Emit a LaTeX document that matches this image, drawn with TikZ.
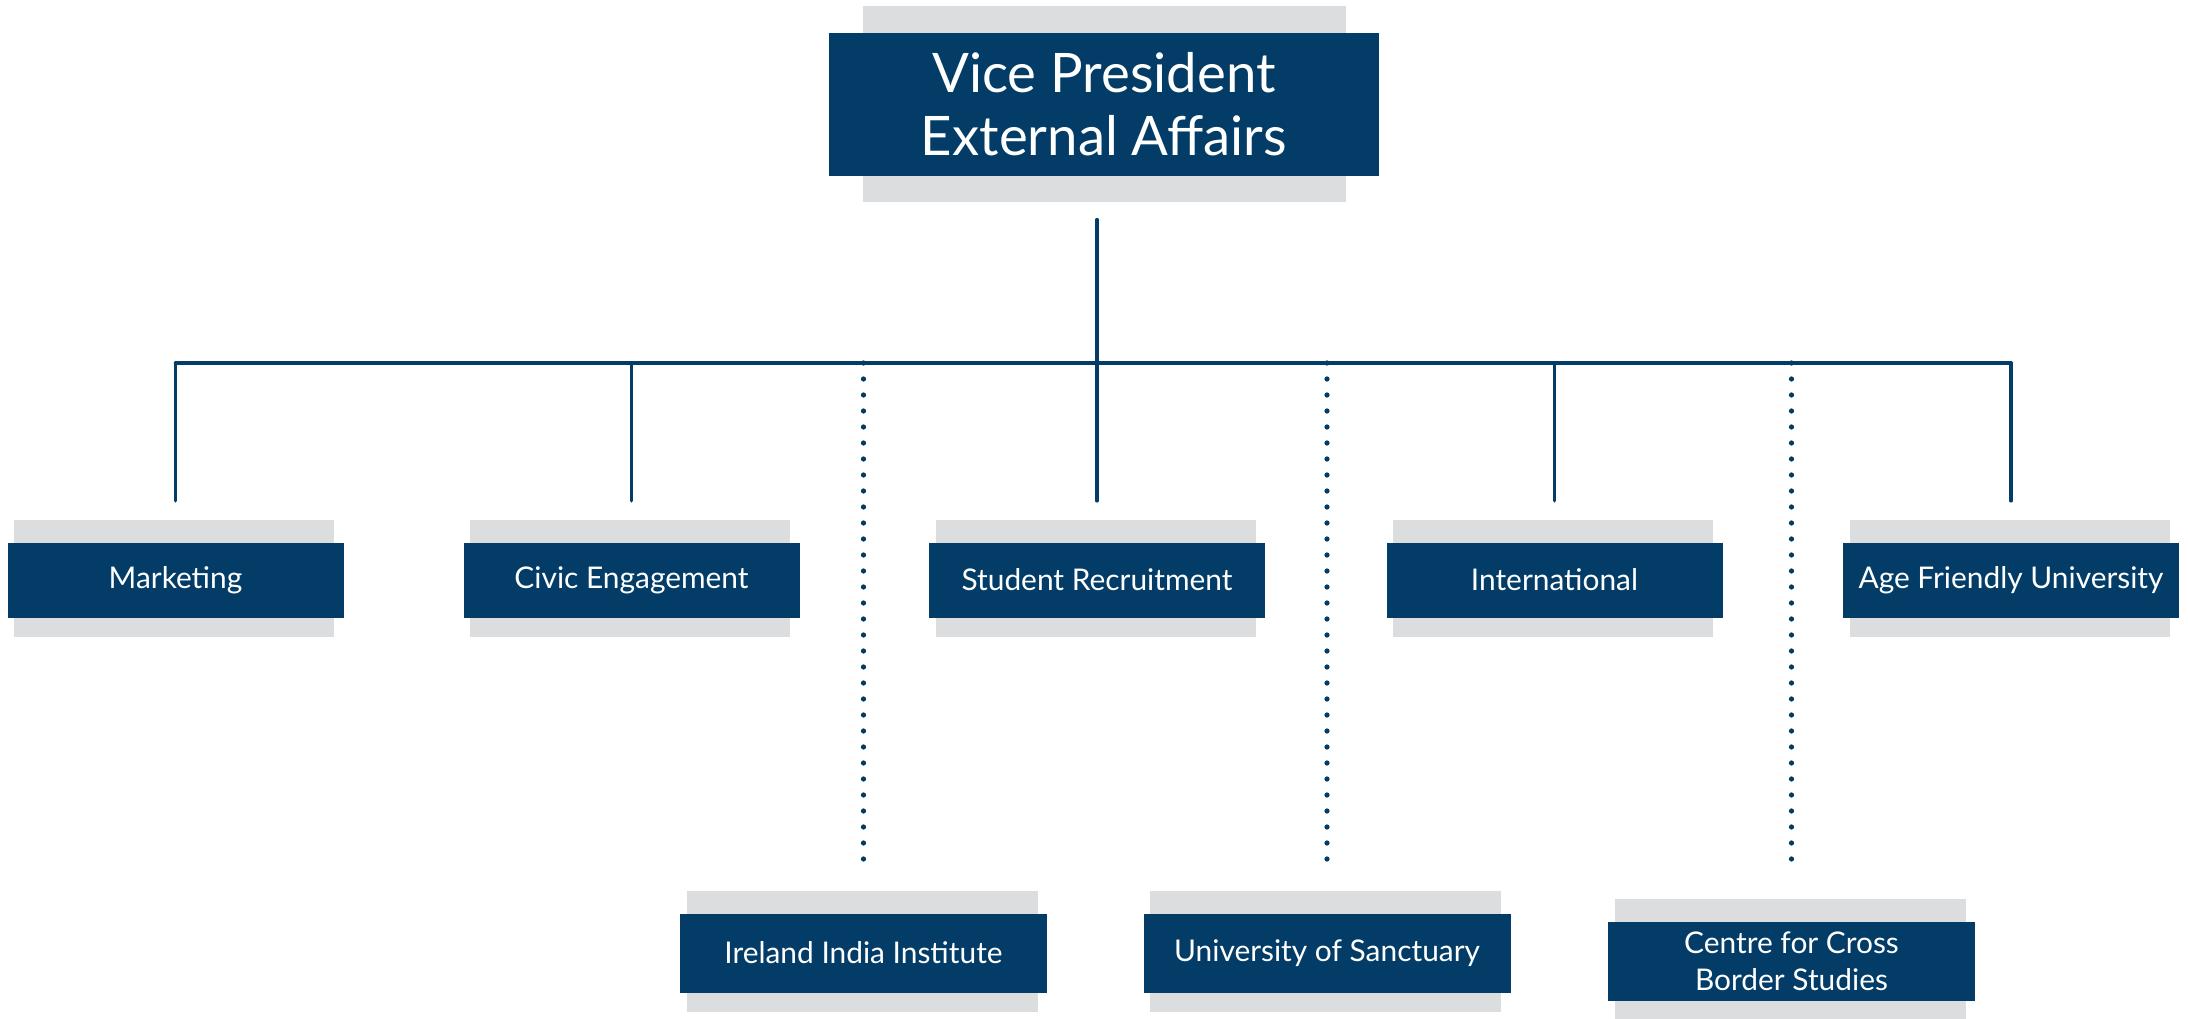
\documentclass[tikz,border=0pt]{standalone}
\usepackage{fontspec}
\setmainfont{Lato}
\usetikzlibrary{positioning,backgrounds,calc}
\definecolor{navy}{HTML}{033D67}
\definecolor{plategrey}{HTML}{DCDDDF}

\begin{document}
\begin{tikzpicture}[line cap=round]
    \tikzstyle{unit}=[fill=navy,text=white,inner sep=0pt,minimum width=3.36cm,minimum height=0.75cm,align=center,font=\fontsize{8.5}{10.5}\selectfont]
    \tikzstyle{lowunit}=[unit,minimum width=3.67cm,minimum height=0.79cm]
    \tikzstyle{plate}=[fill=plategrey]
    \tikzstyle{link}=[draw=navy,line width=1pt]
    \tikzstyle{dotlink}=[draw=navy,line width=1.5pt,dash pattern=on 0pt off 1.6mm]

    \useasboundingbox (0,0) rectangle (21.88,-10.19);

    \node[unit,minimum width=5.5cm,minimum height=1.43cm,font=\fontsize{15.5}{18}\selectfont] (vp) at (11.04,-1.045) {Vice President\\External Affairs};

    % first row
    \node[unit] (mkt)     at (1.755,-5.8) {Marketing};
    \node[unit] (civic)   at (6.315,-5.8) {Civic Engagement};
    \node[unit] (recruit) at (10.97,-5.8) {Student Recruitment};
    \node[unit] (intl)    at (15.545,-5.8) {International};
    \node[unit] (age)     at (20.11,-5.8) {Age Friendly University};

    % second row (dotted)
    \node[lowunit] (iii)   at (8.635,-9.53) {Ireland India Institute};
    \node[lowunit] (sanct) at (13.27,-9.53) {University of Sanctuary};
    \node[lowunit] (ccbs)  at (17.915,-9.615) {Centre for Cross\\Border Studies};

    % grey plates
    \begin{scope}[on background layer]
        \fill[plate] ([xshift=3.5mm,yshift=2.6mm]vp.north west) rectangle ([xshift=-3.4mm,yshift=-2.5mm]vp.south east);
        \foreach \n in {mkt,civic,recruit,intl,age,iii,sanct,ccbs}
            \fill[plate] ([xshift=0.75mm,yshift=2.2mm]\n.north west) rectangle ([xshift=-1mm,yshift=-1.9mm]\n.south east);
    \end{scope}

    % connectors
    \coordinate (trunk) at ([yshift=-4.3mm]vp.south);
    \coordinate (bus) at (0,-3.63);
    \coordinate (dotend) at (0,-8.72);
    \draw[link] (trunk -| recruit) -- (bus -| recruit);
    \draw[link] (bus -| mkt) -- (bus -| age);
    \foreach \n in {mkt,civic,recruit,intl,age}
        \draw[link] (bus -| \n) -- ([yshift=4.1mm]\n.north);
    \foreach \n in {iii,sanct,ccbs}
        \draw[dotlink] (bus -| \n) -- (dotend -| \n);

\end{tikzpicture}
\end{document}
